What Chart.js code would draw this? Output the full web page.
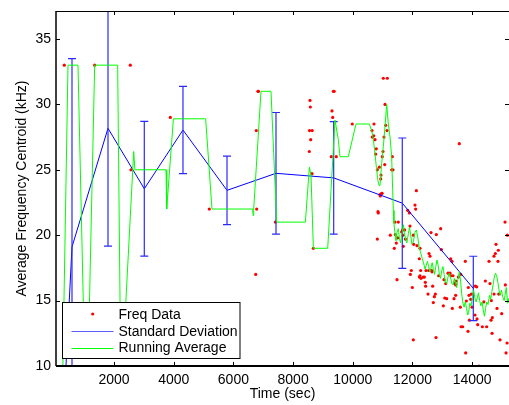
<!DOCTYPE html>
<html>
<head>
<meta charset="utf-8">
<script src="https://cdn.jsdelivr.net/npm/chart.js@4"></script>
<style>
  html, body { margin: 0; padding: 0; background: #fff; }
</style>
</head>
<body>
<canvas id="chart" width="509" height="405"></canvas>
<script>
// tick labels
const xTicks = [2000, 4000, 6000, 8000, 10000, 12000, 14000];
const yTicks = [10, 15, 20, 25, 30, 35];

// raw frequency samples (sec, kHz)
const freqTime = [
  335, 1353, 2546, 2569, 3886, 5193, 6747, 6767, 6780, 6824, 6840, 7405,
  8543, 8566, 8577, 8550, 8640, 8590, 8633, 8678, 9280, 9303, 9326, 9350,
  9375, 9447, 9983, 10643, 10653, 10700, 10710, 10744, 10767, 10787, 10821, 10888,
  10921, 10935, 10945, 10968, 10988, 11012, 11022, 11045, 11069, 11079, 11102, 11146,
  11156, 11303, 11323, 11347, 13568,
  10911, 10978, 12129, 12084, 12106, 11838, 11894, 10844, 10855, 11414, 11525, 11916,
  11671, 11738, 11637, 11257, 11425, 11682, 12028, 11760, 11503, 10822, 12620, 12799,
  12944, 15100, 15178, 11458, 11693, 12039, 11391, 12151, 12252, 12553, 12587, 12966,
  14798, 14776, 14876, 14731, 14564, 14865, 13770, 13324, 13279, 12229, 11961, 12274,
  12642, 13257, 13357, 12397, 12229, 13614,
  11481, 11928, 12251, 12285, 12363, 12453, 12542, 12654, 12430, 12441, 12676, 11995,
  12877, 13056, 13112, 13190, 13290, 13458, 13536, 13413, 13447, 13871, 14106, 14150,
  13972, 13894, 13447, 13391, 13145, 13080, 12765, 12732, 12520, 12698, 13034, 13335,
  13603, 13804, 13949, 13994, 14095, 14162, 13905, 13626, 13681, 13860, 14184, 14340,
  14485, 14631, 14676, 14665, 14832, 14988, 15167, 14932, 15133, 14888, 14731, 15111,
  14441, 14597, 12028, 12788, 13782, 14229, 14642, 14390
];
const freqValue = [
  33, 33, 33, 25, 29, 22, 17, 28, 22, 31, 31, 21,
  26.4, 30.3, 29.8, 28, 28, 27.3, 24.7, 19, 26, 29.5, 29, 31,
  31, 26, 28.5, 28.0, 27.5, 27.6, 28.5, 27.3, 26.2, 26.6, 25.0, 25.2,
  23.0, 24.3, 24.6, 23.2, 26.0, 26.4, 32, 27.5, 25.4, 30.0, 28.4, 28.0,
  32, 25.0, 26.0, 25.0, 27.0,
  23.1, 23.2, 23.4, 22.3, 22.0, 21.9, 21.7, 21.8, 21.7, 21.0, 21.0, 20.7,
  20.4, 20.4, 20.25, 20.0, 20.05, 20.0, 20.0, 19.7, 19.8, 19.7, 20.2, 20.05,
  20.5, 21.0, 20.0, 19.4, 19.15, 19.3, 19.0, 19.2, 19.0, 18.6, 18.4, 18.9,
  19.3, 18.6, 18.85, 18.4, 18.0, 18.0, 18.0, 18.0, 18.2, 18.2, 17.3, 17.3,
  17.3, 17.1, 16.9, 16.8, 16.8, 17.0,
  16.6, 17.0, 16.9, 16.7, 16.8, 17.3, 17.3, 17.2, 16.4, 16.1, 16.1, 16.0,
  16.9, 16.6, 16.3, 17.1, 16.9, 16.5, 16.8, 16.3, 16.2, 16.0, 16.1, 16.05,
  15.5, 15.4, 15.4, 15.15, 15.15, 15.2, 15.5, 15.3, 15.5, 14.85, 14.6, 14.4,
  14.5, 14.97, 15.1, 14.5, 13.9, 13.6, 13.5, 13.0, 13.0, 12.65, 13.16, 13.0,
  13.0, 13.5, 13.7, 12.5, 14.4, 14.0, 11.76, 12.0, 11.0, 15.5, 15.5, 16.2,
  16.5, 16.3, 12.0, 12.17, 11.0, 10.0, 15.0, 14.9
];

// binned mean with standard deviation
const stdTime = [280, 593, 1799, 3015, 4311, 5786, 7427, 9360, 11658, 14037];
const stdMean = [5, 19.1, 28.17, 23.55, 28.04, 23.43, 24.73, 24.38, 22.45, 15.93];
const stdDev = [null, 14.4, 9.0, 5.15, 3.34, 2.62, 4.65, 4.3, 4.98, 2.46];

// running average
const avgTime = [
  250, 459, 794, 1000, 1150, 1353, 2123, 2215, 2330, 2660, 2700, 3743,
  3766, 3990, 5071, 5283, 6646, 6660, 6680, 6925, 7260, 7450, 8411, 8545,
  8600, 8679, 9159, 9404, 9515, 9571, 9850, 10107, 10554, 10632, 10690, 10745,
  10790, 10840, 10880, 10912, 10968, 11023, 11079, 11135, 11191, 11247, 11302, 11336,
  11358, 11380, 11414, 11447, 11480, 11525, 11560, 11600, 11640, 11693, 11730, 11770,
  11810, 11860, 11900, 11940, 11980, 12030, 12080, 12130, 12180, 12230, 12280, 12330,
  12380, 12420, 12460, 12500, 12540, 12580, 12620, 12660, 12700, 12740, 12780, 12820,
  12860, 12900, 12940, 12980, 13020, 13060, 13100, 13145, 13190, 13230, 13270, 13320,
  13360, 13400, 13440, 13480, 13520, 13570, 13610, 13650, 13690, 13730, 13770, 13810,
  13850, 13880, 13920, 13960, 14010, 14050, 14090, 14130, 14170, 14210, 14250, 14290,
  14330, 14370, 14410, 14450, 14485, 14530, 14580, 14620, 14660, 14700, 14740, 14780,
  14820, 14860, 14900, 14940, 14980, 15020, 15070, 15100, 15140, 15189, 15233
];
const avgValue = [
  5, 33, 33, 12, 12, 33, 33, 12, 12, 26.4, 25, 25,
  22, 28.9, 28.9, 22, 22, 21.5, 22, 31, 31, 21, 21, 25.2,
  24.6, 19, 19, 28.8, 27.3, 26, 26, 28.5, 28.5, 28, 27.3, 26.2,
  25.2, 24.2, 23.8, 23.8, 25.5, 26.8, 28.3, 30, 28.5, 27.5, 26, 23.4,
  21.9, 20.9, 20.1, 19.6, 20.2, 20.5, 19.8, 19.4, 20.0, 20.8, 20.2, 19.7,
  19.4, 20.1, 20.6, 20.0, 19.3, 19.5, 20.2, 20.4, 19.8, 19.0, 18.6, 18.2,
  17.8, 17.4, 17.7, 18.0, 17.6, 17.2, 17.5, 17.9, 17.4, 17.0, 17.6, 18.1,
  17.7, 17.0, 16.7, 17.3, 17.6, 17.0, 16.4, 16.3, 16.8, 17.1, 16.8, 16.3,
  16.2, 16.7, 16.4, 16.0, 16.6, 17.2, 16.5, 15.5, 14.8, 14.5, 14.9, 14.4,
  13.9, 14.1, 14.8, 14.6, 15.3, 15.8, 15.2, 14.9, 15.2, 15.6, 15.0, 14.6,
  14.9, 14.3, 13.8, 14.4, 14.9, 14.7, 15.4, 15.1, 15.7, 16.2, 16.8, 17.1,
  16.9, 16.4, 15.8, 15.4, 15.8, 15.3, 15.0, 15.4, 16.0, 14.8, 15.2
];

const toPoints = (xs, ys) => xs.map((t, i) => ({ x: t, y: ys[i] }));

Chart.defaults.font.family = '"Liberation Sans", Arial, Helvetica, sans-serif';
Chart.defaults.font.size = 14;
Chart.defaults.color = '#000';

// error bars drawn right after the mean line, using the chart's own scales
const errorBars = {
  id: 'errorBars',
  afterDatasetDraw(chart, args) {
    if (args.index !== 1) return;
    const { ctx, chartArea: a, scales: { x, y } } = chart;
    ctx.save();
    ctx.beginPath();
    ctx.rect(a.left, a.top, a.right - a.left, a.bottom - a.top);
    ctx.clip();
    ctx.strokeStyle = '#2a2aff';
    ctx.lineWidth = 1.2;
    stdTime.forEach((t, i) => {
      if (stdDev[i] == null) return;
      const px = x.getPixelForValue(t);
      const top = y.getPixelForValue(stdMean[i] + stdDev[i]);
      const bot = y.getPixelForValue(stdMean[i] - stdDev[i]);
      ctx.beginPath();
      ctx.moveTo(px, top); ctx.lineTo(px, bot);
      ctx.moveTo(px - 4, top); ctx.lineTo(px + 4, top);
      ctx.moveTo(px - 4, bot); ctx.lineTo(px + 4, bot);
      ctx.stroke();
    });
    ctx.restore();
  }
};

// axes box with inward ticks, then the legend box on top
const frame = {
  id: 'frame',
  afterDatasetsDraw(chart) {
    const { ctx, chartArea: a, scales: { x, y } } = chart;
    ctx.save();
    ctx.strokeStyle = '#000';
    ctx.lineWidth = 1;
    ctx.beginPath();
    xTicks.forEach(v => {
      const px = Math.round(x.getPixelForValue(v)) + 0.5;
      ctx.moveTo(px, a.bottom); ctx.lineTo(px, a.bottom - 4);
      ctx.moveTo(px, a.top); ctx.lineTo(px, a.top + 4);
    });
    yTicks.forEach(v => {
      const py = Math.round(y.getPixelForValue(v)) + 0.5;
      ctx.moveTo(a.left, py); ctx.lineTo(a.left + 4, py);
      ctx.moveTo(a.right, py); ctx.lineTo(a.right - 4, py);
    });
    ctx.stroke();
    // top edge
    ctx.beginPath();
    ctx.moveTo(a.left, a.top + 0.5); ctx.lineTo(a.right, a.top + 0.5);
    ctx.stroke();
    // left and bottom edges
    ctx.lineWidth = 1.5;
    ctx.beginPath();
    ctx.moveTo(a.left, a.top); ctx.lineTo(a.left, a.bottom);
    ctx.stroke();
    ctx.lineWidth = 2;
    ctx.beginPath();
    ctx.moveTo(a.left, a.bottom); ctx.lineTo(a.right, a.bottom);
    ctx.stroke();

    // legend
    const lx = 62.5, ly = 302.5, lw = 177.5, lh = 56;
    ctx.fillStyle = '#fff';
    ctx.fillRect(lx, ly, lw, lh);
    ctx.lineWidth = 1;
    ctx.strokeStyle = '#000';
    ctx.strokeRect(lx, ly, lw, lh);
    const rows = chart.data.datasets;
    const rowY = [314, 331, 347.5];
    ctx.font = '14px "Liberation Sans", Arial, sans-serif';
    ctx.textBaseline = 'middle';
    ctx.textAlign = 'left';
    rows.forEach((ds, i) => {
      const cy = rowY[i];
      if (ds.showLine === false) {
        ctx.fillStyle = '#ff0000';
        ctx.beginPath();
        ctx.arc(92.7, cy, 1.6, 0, Math.PI * 2);
        ctx.fill();
      } else {
        ctx.strokeStyle = i === 1 ? '#5a5aff' : '#00ff00';
        ctx.lineWidth = 1;
        ctx.beginPath();
        ctx.moveTo(71.5, Math.round(cy) + 0.5); ctx.lineTo(113.5, Math.round(cy) + 0.5);
        ctx.stroke();
      }
      ctx.fillStyle = '#000';
      ctx.fillText(ds.label, 118.5, cy + 1);
    });
    ctx.restore();
  }
};

new Chart(document.getElementById('chart'), {
  type: 'line',
  data: {
    datasets: [
      {
        label: 'Freq Data',
        data: toPoints(freqTime, freqValue),
        showLine: false,
        pointRadius: 1.6,
        pointHoverRadius: 0,
        pointBackgroundColor: '#ff0000',
        pointBorderWidth: 0,
        order: 3,
      },
      {
        label: 'Standard Deviation',
        data: toPoints(stdTime, stdMean),
        borderColor: '#0000ff',
        borderWidth: 1,
        pointRadius: 0,
        pointHoverRadius: 0,
        order: 2,
      },
      {
        label: 'Running Average',
        data: toPoints(avgTime, avgValue),
        borderColor: '#00ff00',
        borderWidth: 1,
        pointRadius: 0,
        pointHoverRadius: 0,
        order: 1,
      },
    ],
  },
  options: {
    responsive: false,
    animation: false,
    events: [],
    layout: { autoPadding: false, padding: { top: 11, right: 0, left: 0, bottom: 0 } },
    plugins: {
      legend: { display: false },
      tooltip: { enabled: false },
    },
    scales: {
      x: {
        type: 'linear',
        min: 57,
        max: 15233,
        afterBuildTicks: (s) => { s.ticks = xTicks.map(v => ({ value: v })); },
        afterFit: (s) => { s.height = 39; s.paddingLeft = 0; s.paddingRight = 0; },
        grid: { display: false, drawTicks: false },
        border: { display: false },
        ticks: { padding: 6, maxRotation: 0, callback: (v) => String(v) },
        title: { display: true, text: 'Time (sec)', padding: { top: 0, bottom: 2 } },
      },
      y: {
        type: 'linear',
        min: 10,
        max: 37.14,
        afterBuildTicks: (s) => { s.ticks = yTicks.map(v => ({ value: v })); },
        afterFit: (s) => { s.width = 56; s.paddingTop = 0; s.paddingBottom = 0; },
        grid: { display: false, drawTicks: false },
        border: { display: false },
        ticks: { padding: 5, callback: (v) => String(v) },
        title: { display: true, text: 'Average Frequency Centroid (kHz)', padding: { top: 14, bottom: 0 } },
      },
    },
  },
  plugins: [errorBars, frame],
});
</script>
</body>
</html>
